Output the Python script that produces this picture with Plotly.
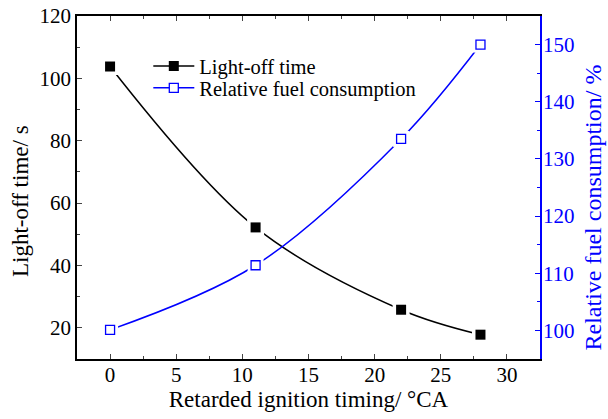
import plotly.graph_objects as go

timing = [0, 11, 22, 28]
lightoff = [103.8, 52.2, 25.8, 17.8]
fuel = [100.1, 111.4, 133.5, 150.0]

FONT = "Liberation Serif"
BLUE = "#0000ff"

fig = go.Figure()

fig.add_trace(go.Scatter(x=timing, y=lightoff, mode="lines+markers", name="Light-off time",
                         line=dict(color="black", width=1.5, shape="spline"),
                         marker=dict(symbol="square", size=10, color="black"),
                         yaxis="y", legend="legend"))
fig.add_trace(go.Scatter(x=timing, y=fuel, mode="lines+markers", name="Relative fuel consumption",
                         line=dict(color=BLUE, width=1.5, shape="spline"),
                         marker=dict(symbol="square", size=9, color="white", line=dict(color=BLUE, width=1.3)),
                         yaxis="y2", legend="legend2"))
fig.add_trace(go.Scatter(x=timing, y=lightoff, mode="markers", showlegend=False, hoverinfo="skip",
                         marker=dict(symbol="square", size=17, color="white"), yaxis="y"))
fig.add_trace(go.Scatter(x=timing, y=fuel, mode="markers", showlegend=False, hoverinfo="skip",
                         marker=dict(symbol="square", size=16, color="white"), yaxis="y2"))
fig.add_trace(go.Scatter(x=timing, y=lightoff, mode="markers", showlegend=False,
                         marker=dict(symbol="square", size=10, color="black"), yaxis="y"))
fig.add_trace(go.Scatter(x=timing, y=fuel, mode="markers", showlegend=False,
                         marker=dict(symbol="square", size=9, color="white", line=dict(color=BLUE, width=1.3)),
                         yaxis="y2"))

leg = dict(xanchor="left", yanchor="middle", bgcolor="rgba(0,0,0,0)",
           font=dict(family=FONT, size=20.5), itemwidth=41)

fig.update_layout(
    width=608, height=419,
    margin=dict(l=77, r=68, t=16, b=60, autoexpand=False),
    paper_bgcolor="white", plot_bgcolor="white",
    font=dict(family=FONT, size=21, color="black"),
    showlegend=True,
    legend=dict(x=0.154, y=0.854, **leg),
    legend2=dict(x=0.154, y=0.790, **leg),
    xaxis=dict(range=[-2.5, 32.5], tick0=0, dtick=5, ticks="inside", ticklen=5, tickwidth=1.2,
               showline=True, linecolor="black", linewidth=1.5, mirror="ticks", showgrid=False,
               zeroline=False, automargin=False, ticklabelstandoff=-4,
               minor=dict(ticks="inside", ticklen=3, dtick=2.5, tick0=0, tickwidth=1.2),
               title=dict(text="Retarded ignition timing/ °CA", font=dict(size=23), standoff=4),
               tickfont=dict(size=21)),
    yaxis=dict(range=[10, 120], tick0=0, dtick=20, ticks="inside", ticklen=5, tickwidth=1.2,
               showline=True, linecolor="black", linewidth=1.5, showgrid=False, zeroline=False,
               automargin=False,
               minor=dict(ticks="inside", ticklen=3, dtick=10, tick0=0, tickwidth=1.2),
               tickfont=dict(size=21)),
    yaxis2=dict(range=[95, 155], tick0=0, dtick=10, ticks="inside", ticklen=5, tickwidth=1.2,
                overlaying="y", side="right", showline=True, linecolor=BLUE, linewidth=1.5,
                tickcolor=BLUE, showgrid=False, zeroline=False, automargin=False,
                ticklabelstandoff=-3,
                minor=dict(ticks="inside", ticklen=3, dtick=5, tick0=0, tickwidth=1.2, tickcolor=BLUE),
                tickfont=dict(size=21, color=BLUE)),
    annotations=[
        dict(text="Light-off time/ s", xref="paper", yref="paper", x=-0.1231, y=0.4606,
             textangle=-90, showarrow=False, xanchor="center", yanchor="middle",
             font=dict(family=FONT, size=23, color="black")),
        dict(text="Relative fuel consumption/ %", xref="paper", yref="paper", x=1.1145, y=0.4417,
             textangle=-90, showarrow=False, xanchor="center", yanchor="middle",
             font=dict(family=FONT, size=24, color=BLUE)),
    ],
)

fig.write_html("out.html", post_script="document.body.style.margin='0';",
               config={"displayModeBar": False})
